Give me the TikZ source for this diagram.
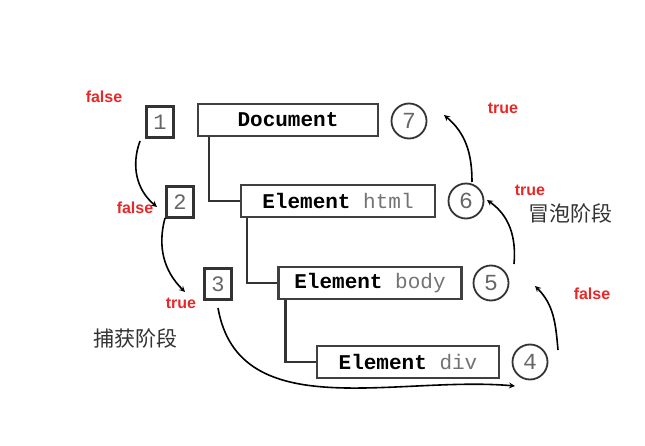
\documentclass[tikz,border=0pt]{standalone}
\usepackage{fontspec}
\setmainfont{Liberation Sans}
\setmonofont{Liberation Mono}
\newfontfamily\cjk{Noto Sans CJK SC}
\usetikzlibrary{positioning}
\definecolor{flagred}{RGB}{232,40,40}
\tikzset{
  elembox/.style={draw=black!75, line width=2.4pt, minimum height=32pt, inner sep=1pt, font={\ttfamily\fontsize{21}{21}\selectfont}},
  stepsq/.style={draw=black!80, line width=2.4pt, minimum width=27pt, minimum height=31pt, font={\ttfamily\fontsize{22}{22}\selectfont}, text=black!60},
  stepcirc/.style={draw=black!80, circle, line width=1.8pt, minimum size=35pt, inner sep=0pt, font={\ttfamily\fontsize{23}{23}\selectfont}, text=black!60},
  flag/.style={text=flagred, font={\bfseries\fontsize{16}{16}\selectfont}},
  phase/.style={font={\cjk\fontsize{21}{21}\selectfont}, text=black!80},
  flow/.style={->, line width=1.6pt, >=stealth},
  tree/.style={line width=2.4pt, black!80}
}
\newcommand{\kw}[1]{\textbf{#1}}
\newcommand{\tg}[1]{\textcolor{black!55}{#1}}
\begin{document}
\begin{tikzpicture}[x=1pt,y=-1pt]
\useasboundingbox (0,0) rectangle (645,446);
\fill[white] (0,0) rectangle (645,446);

% tree of elements
\node[elembox, minimum width=180pt] (doc) at (288,120) {\kw{Document}};
\node[elembox, minimum width=194pt] (html) at (338,201) {\kw{Element} \tg{html}};
\node[elembox, minimum width=183pt] (body) at (370,283) {\kw{Element} \tg{body}};
\node[elembox, minimum width=182pt] (div) at (408,362) {\kw{Element} \tg{div}};
\draw[tree] ([xshift=12pt]doc.south west) |- (html.west);
\draw[tree] ([xshift=7pt]html.south west) |- (body.west);
\draw[tree] ([xshift=8pt]body.south west) |- (div.west);

% steps
\node[stepsq] (s1) at (160,122) {1};
\node[stepsq] (s2) at (180,202) {2};
\node[stepsq] (s3) at (218,284) {3};
\node[stepcirc] (c4) at (530,362) {4};
\node[stepcirc] (c5) at (491,283) {5};
\node[stepcirc] (c6) at (466,201) {6};
\node[stepcirc] (c7) at (409,121) {7};

% capture and bubble arrows
\coordinate (a1) at (140,141);
\coordinate (a2) at (157,207);
\coordinate (a3) at (165,218);
\coordinate (a4) at (185,292);
\coordinate (a5) at (218,308);
\coordinate (a6) at (515,386);
\coordinate (a7) at (558,350);
\coordinate (a8) at (535,286);
\coordinate (a9) at (514,264);
\coordinate (a10) at (487,200);
\coordinate (a11) at (472,182);
\coordinate (a12) at (444,115);
\draw[flow] (a1) to[out=250,in=140] (a2);
\draw[flow] (a3) to[out=255,in=135] (a4);
\draw[flow] (a5) to[out=280,in=175] (a6);
\draw[flow] (a7) to[out=95,in=-45] (a8);
\draw[flow] (a9) to[out=85,in=-35] (a10);
\draw[flow] (a11) to[out=90,in=-40] (a12);

% labels
\node[flag] (f1) at (104,97) {false};
\node[flag] (f2) at (135,208) {false};
\node[flag] (f3) at (181,303) {true};
\node[flag] (f4) at (503,108) {true};
\node[flag] (f5) at (530,190) {true};
\node[flag] (f6) at (592,294) {false};
\node[phase] (cap) at (135,338) {捕获阶段};
\node[phase] (bub) at (570,214) {冒泡阶段};
\end{tikzpicture}
\end{document}
